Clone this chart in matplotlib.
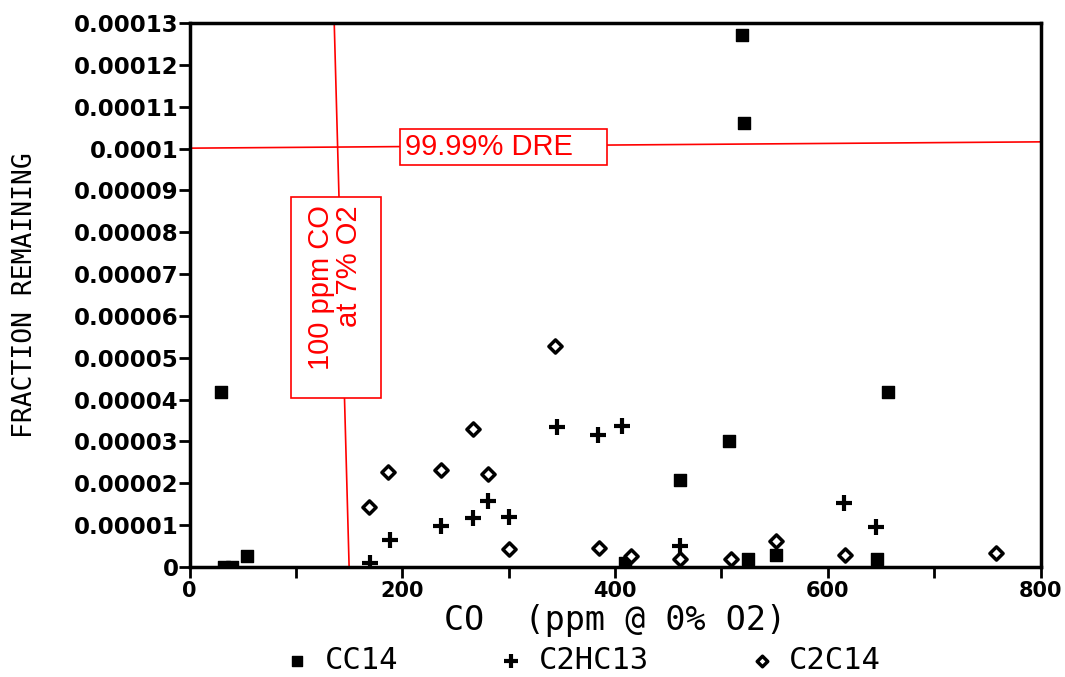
import matplotlib
matplotlib.use("Agg")
import matplotlib.pyplot as plt
from matplotlib.patches import Rectangle

# CO (ppm @ 0% O2) vs fraction remaining
cc14_x = [30, 32, 40, 54, 519, 521, 507, 461, 657, 409, 525, 551, 646]
cc14_y = [4.18e-5, 0.0, 0.0, 0.26e-5, 12.71e-5, 10.6e-5, 3.01e-5, 2.08e-5,
          4.18e-5, 0.1e-5, 0.2e-5, 0.29e-5, 0.2e-5]

c2hc13_x = [170, 188, 236, 266, 281, 300, 345, 384, 407, 461, 615, 645]
c2hc13_y = [0.1e-5, 0.65e-5, 0.98e-5, 1.17e-5, 1.58e-5, 1.19e-5, 3.35e-5,
            3.15e-5, 3.37e-5, 0.5e-5, 1.53e-5, 0.96e-5]

c2c14_x = [169, 187, 236, 266, 281, 300, 344, 385, 415, 461, 509, 551, 616, 758]
c2c14_y = [1.43e-5, 2.27e-5, 2.32e-5, 3.3e-5, 2.22e-5, 0.43e-5, 5.28e-5,
           0.45e-5, 0.26e-5, 0.19e-5, 0.19e-5, 0.62e-5, 0.28e-5, 0.33e-5]

y_ticks = [i * 1e-5 for i in range(14)]
y_labels = ["0", "0.00001", "0.00002", "0.00003", "0.00004", "0.00005",
            "0.00006", "0.00007", "0.00008", "0.00009", "0.0001",
            "0.00011", "0.00012", "0.00013"]
x_ticks = [0, 100, 200, 300, 400, 500, 600, 700, 800]
x_labels = ["0", "", "200", "", "400", "", "600", "", "800"]

fig = plt.figure(figsize=(10.65, 6.77), dpi=100)
ax = fig.add_axes([0.178, 0.1625, 0.799, 0.8035])

ax.scatter(cc14_x, cc14_y, marker="s", s=70, color="black", label="CC14", zorder=3)
ax.scatter(c2hc13_x, c2hc13_y, marker="+", s=140, linewidths=3, color="black",
           label="C2HC13", zorder=3)
ax.scatter(c2c14_x, c2c14_y, marker="D", s=45, facecolors="white",
           edgecolors="black", linewidths=2.5, label="C2C14", zorder=3)

ax.set_xlim(0, 800)
ax.set_ylim(0, 0.00013)
ax.set_yticks(y_ticks)
ax.set_yticklabels(y_labels, fontsize=16.5, fontweight="bold", family="DejaVu Sans")
ax.set_xticks(x_ticks)
ax.set_xticklabels(x_labels, fontsize=15, fontweight="bold", family="DejaVu Sans")
ax.tick_params(axis="x", direction="out", length=8, width=2, pad=2)
ax.tick_params(axis="y", direction="out", length=8, width=2, pad=0)
for sp in ax.spines.values():
    sp.set_linewidth(2.5)

ax.set_xlabel("CO  (ppm @ 0% O2)", fontsize=24, family="DejaVu Sans Mono", labelpad=2)
ax.set_ylabel("FRACTION REMAINING", fontsize=19, family="DejaVu Sans Mono", labelpad=26)

# red annotations
ax.plot([3, 800], [10.01e-5, 10.16e-5], color="red", lw=1.2, zorder=2, clip_on=False)
ax.plot([150, 136], [0, 0.00013], color="red", lw=1.2, zorder=2)

ax.add_patch(Rectangle((197.6, 9.61e-5), 194.9, 0.86e-5, fc="white", ec="red",
                       lw=1.2, zorder=4))
ax.text(202.4, 10.04e-5, "99.99% DRE", color="red", fontsize=21,
        family="Liberation Sans", ha="left", va="center", zorder=5)

ax.add_patch(Rectangle((95, 4.04e-5), 84.8, 4.8e-5, fc="white", ec="red",
                       lw=1.2, zorder=4))
ax.text(137, 8.65e-5, "100 ppm CO\nat 7% O2", color="red", fontsize=21,
        family="Liberation Sans", rotation=90, ha="center", va="top",
        multialignment="right", linespacing=1.0, zorder=5)

leg = fig.legend(loc="center", bbox_to_anchor=(0.546, 0.024), ncol=3, frameon=False,
                 prop={"family": "DejaVu Sans Mono", "size": 22},
                 handlelength=1.0, columnspacing=3.2, handletextpad=0.4,
                 markerscale=0.8)

fig.savefig("out.png", dpi=100)
